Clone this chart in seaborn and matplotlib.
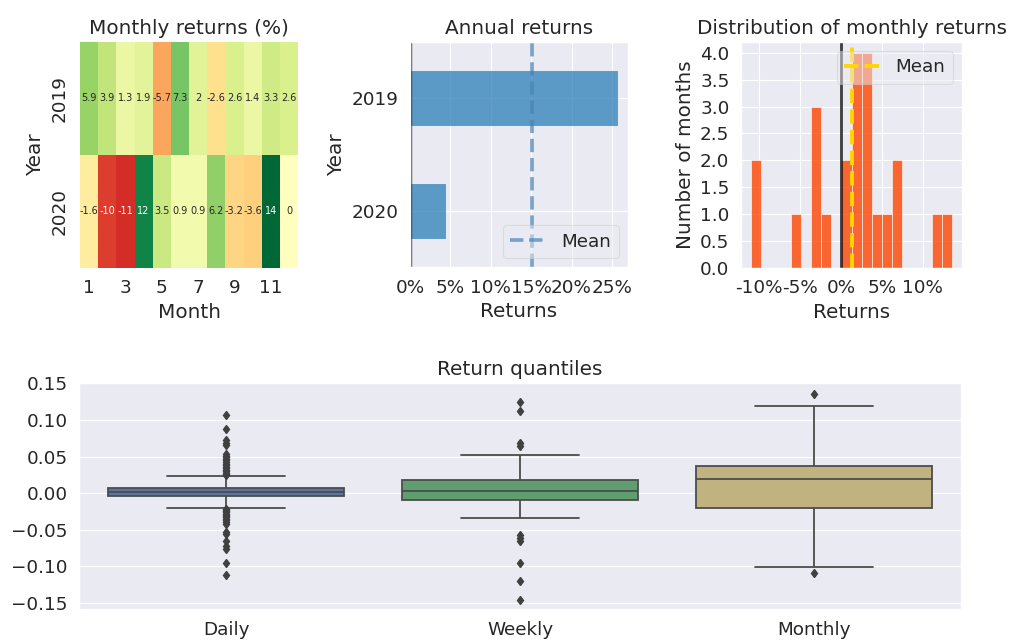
import numpy as np
import pandas as pd
import matplotlib
matplotlib.use("Agg")
import matplotlib.pyplot as plt
from matplotlib.ticker import FuncFormatter, MultipleLocator
import seaborn as sns

# ---- data -------------------------------------------------------------
years = [2019, 2020]
months = list(range(1, 13))
# monthly returns in percent (December 2020 not available)
returns_2019 = [5.9, 3.9, 1.34, 1.9, -5.7, 7.26, 2.0, -2.6, 2.6, 1.4, 3.3, 2.6]
returns_2020 = [-1.6, -10.1, -10.95, 11.9, 3.5, 0.9, 0.9, 6.24, -3.2, -3.56, 13.55, np.nan]

annual_years = ["2019", "2020"]
annual_returns = [0.257, 0.045]

# daily returns summarised as distinct values and how often they occur
daily_ret_values = [-0.112, -0.095, -0.077, -0.072, -0.066, -0.056, -0.053,
                    -0.042, -0.039, -0.037, -0.035, -0.033, -0.031, -0.030,
                    -0.028, -0.026, -0.025, -0.023, -0.022,
                    -0.020, -0.015, -0.010, -0.0045, 0.001, 0.0068, 0.012,
                    0.018, 0.0228,
                    0.025, 0.026, 0.028, 0.030, 0.032, 0.034, 0.036, 0.038,
                    0.040, 0.043, 0.045, 0.047, 0.049, 0.051, 0.053, 0.066,
                    0.069, 0.072, 0.088, 0.107]
daily_ret_counts = [1] * 19 + [4, 10, 30, 80, 160, 80, 40, 15, 4] + [1] * 20

weekly_ret_values = [-0.146, -0.120, -0.095, -0.066, -0.062, -0.057,
                     -0.0345, -0.025, -0.018, -0.010, -0.004, 0.0033, 0.010,
                     0.0173, 0.025, 0.035, 0.045, 0.0518,
                     0.064, 0.068, 0.112, 0.125]
weekly_ret_counts = [1, 1, 1, 1, 1, 1,
                     1, 3, 5, 15, 8, 20, 10, 15, 6, 4, 2, 1,
                     1, 1, 1, 1]

quantile_labels = ["Daily", "Weekly", "Monthly"]
box_palette = ["#4C72B0", "#55A868", "#CCB974"]

# ---- style ------------------------------------------------------------
sns.set_theme(style="darkgrid", context="paper", font_scale=1.5)

fig = plt.figure(figsize=(10.13, 6.4), dpi=100)
ax_heat = fig.add_axes([0.079, 0.5813, 0.2152, 0.3531])
ax_ann = fig.add_axes([0.4047, 0.5828, 0.2152, 0.3516])
ax_hist = fig.add_axes([0.7315, 0.5813, 0.2182, 0.3531])
ax_box = fig.add_axes([0.078, 0.0484, 0.8707, 0.3531])

# ---- monthly returns heatmap -----------------------------------------
table = pd.DataFrame([returns_2019, returns_2020],
                     index=pd.Index(years, name="Year"),
                     columns=pd.Index(months, name="Month"))
sns.heatmap(table.fillna(0), annot=True, annot_kws={"size": 7}, center=0.0,
            cbar=False, cmap="RdYlGn", xticklabels=2, ax=ax_heat)
ax_heat.set_title("Monthly returns (%)")
ax_heat.tick_params(axis="x", rotation=0)

# ---- annual returns ---------------------------------------------------
ann = pd.DataFrame({"Year": annual_years, "Returns": annual_returns})
sns.barplot(data=ann, x="Returns", y="Year", orient="h", color="#1f77b4",
            alpha=0.7, width=0.5, saturation=1, errorbar=None, ax=ax_ann)
ax_ann.yaxis.grid(True)
ax_ann.axvline(0.0, color="black", linestyle="-", lw=2.5, alpha=0.6)
mean_ann = ax_ann.axvline(np.mean(annual_returns), color="steelblue",
                          linestyle="--", lw=2.6, alpha=0.7)
ax_ann.legend(handles=[mean_ann], labels=["Mean"], loc="lower right",
              frameon=True, framealpha=0.5)
ax_ann.xaxis.set_major_locator(MultipleLocator(0.05))
ax_ann.xaxis.set_major_formatter(FuncFormatter(lambda x, _: f"{x:.0%}"))
ax_ann.set_xlim(0, None)
ax_ann.set_title("Annual returns")
ax_ann.set_xlabel("Returns")
ax_ann.set_ylabel("Year")

# ---- distribution of monthly returns ---------------------------------
monthly_pct = pd.Series(returns_2019 + returns_2020).dropna()
sns.histplot(monthly_pct, bins=20, color="orangered", alpha=0.8,
             edgecolor="white", linewidth=0.4, ax=ax_hist)
ax_hist.axvline(0.0, color="black", linestyle="-", lw=2, alpha=0.75)
mean_hist = ax_hist.axvline(monthly_pct.mean(), color="gold",
                            linestyle="--", lw=2.8)
ax_hist.legend(handles=[mean_hist], labels=["Mean"], loc="upper right",
               frameon=True, framealpha=0.5)
ax_hist.yaxis.set_major_locator(MultipleLocator(0.5))
ax_hist.xaxis.set_major_locator(MultipleLocator(5))
ax_hist.xaxis.set_major_formatter(FuncFormatter(lambda x, _: f"{x:.0f}%"))
ax_hist.set_title("Distribution of monthly returns")
ax_hist.set_xlabel("Returns")
ax_hist.set_ylabel("Number of months")

# ---- return quantiles -------------------------------------------------
daily = np.repeat(daily_ret_values, daily_ret_counts)
weekly = np.repeat(weekly_ret_values, weekly_ret_counts)
monthly = monthly_pct.to_numpy() / 100.0
box_df = pd.DataFrame({
    "period": ["Daily"] * len(daily) + ["Weekly"] * len(weekly)
              + ["Monthly"] * len(monthly),
    "ret": np.concatenate([daily, weekly, monthly]),
})
sns.boxplot(data=box_df, x="period", y="ret", hue="period",
            order=quantile_labels, hue_order=quantile_labels,
            palette=box_palette, saturation=0.75, linewidth=1.3,
            fliersize=4.5, legend=False,
            flierprops={"marker": "d", "markerfacecolor": "0.25",
                        "markeredgecolor": "0.25"},
            ax=ax_box)
ax_box.set_ylim(-0.1585, 0.1505)
ax_box.yaxis.set_major_locator(MultipleLocator(0.05))
ax_box.set_title("Return quantiles")
ax_box.set_xlabel("")
ax_box.set_ylabel("")

fig.savefig("out.png", dpi=100)
